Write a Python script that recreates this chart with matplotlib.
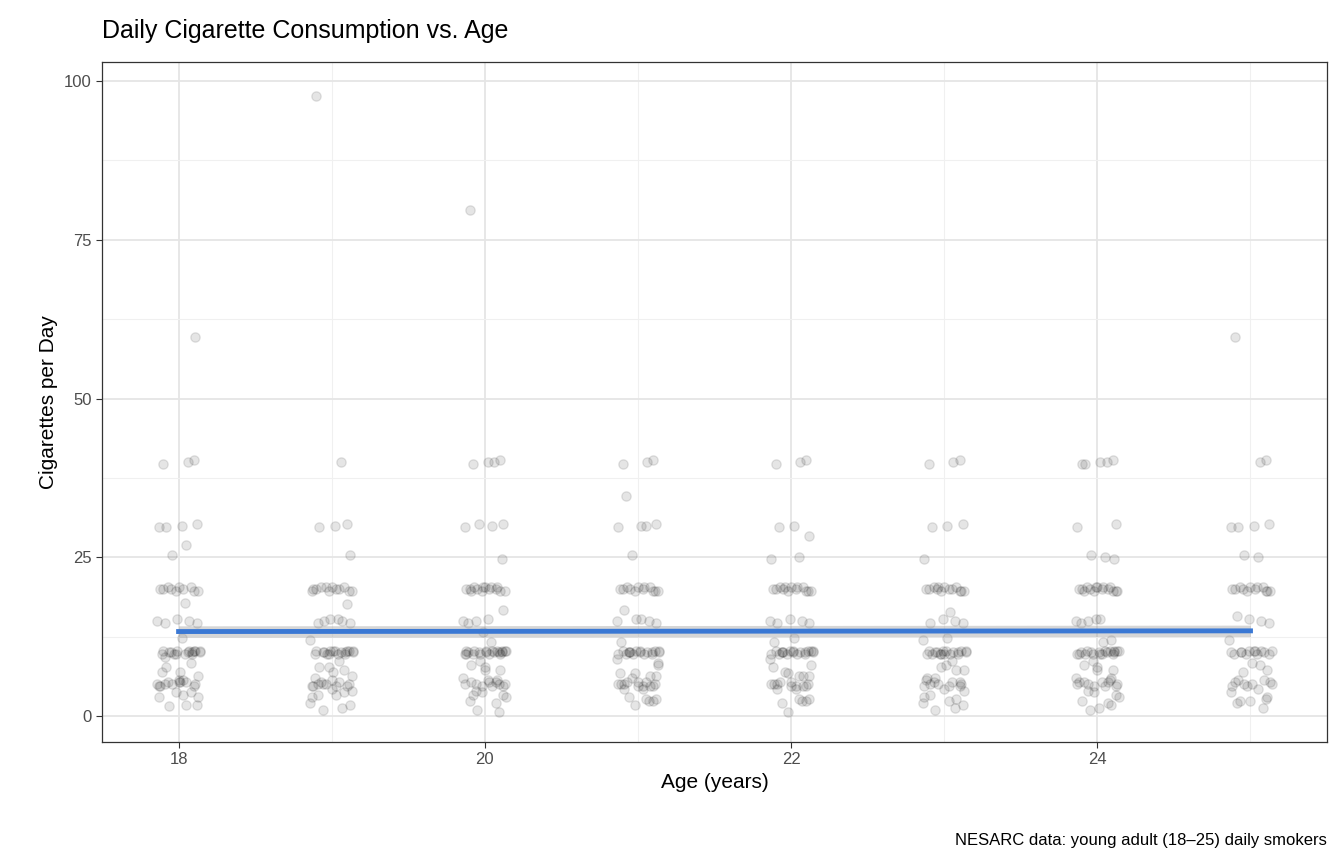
import numpy as np
import matplotlib
matplotlib.use("Agg")
import matplotlib.pyplot as plt

plt.rcParams['font.family'] = ['Liberation Sans', 'DejaVu Sans']

ages = [18, 19, 20, 21, 22, 23, 24, 25]
# cigarettes per day per age group
cigs = {
18: [40,40,40,30,30,30,30,27,25,60,20,20,20,20,20,20,20,20,20,20,17.5,15,15,15,15,15,12,10,10,10,10,10,10,10,10,10,8,7,6,5,5,5,5,5,5,4,3,3,2,1.5,
     10,10,10,10,10,10,5,5,5,5,6,7,8,4,3,9,2,5,10,6],
19: [98,40,30,30,30,25,20,20,20,20,20,20,20,20,20,20,20,20,18,15,15,15,15,15,15,12,10,10,10,10,10,10,10,10,10,10,8,7,6,5,5,5,5,5,4,4,3,3,2,1,1,
     10,10,10,10,10,10,5,5,5,5,6,7,8,4,3,9,2,10,6,5],
20: [80,40,40,40,40,30,30,30,30,25,20,20,20,20,20,20,20,20,20,20,20,20,20,20,17,15,15,15,15,13,12,10,10,10,10,10,10,10,10,10,10,10,10,8,7,6,5,5,5,5,5,4,3,2,1,1,
     10,10,10,10,10,10,10,5,5,5,5,6,7,8,4,3,9,2,10,6,5,3],
21: [40,40,40,35,30,30,30,30,25,20,20,20,20,20,20,20,20,20,20,20,20,17,15,15,15,15,15,12,10,10,10,10,10,10,10,10,10,10,8,7,6,5,5,5,5,5,5,4,3,3,2,2,
     10,10,10,10,10,10,5,5,5,5,6,7,8,4,3,9,2,5,10,6],
22: [40,40,40,30,30,28,25,25,20,20,20,20,20,20,20,20,20,20,20,20,20,15,15,15,15,15,12,12,10,10,10,10,10,10,10,10,10,10,10,8,7,6,5,5,5,5,5,4,3,2,2,1,
     10,10,10,10,10,10,5,5,5,5,6,7,8,4,3,9,2,5,10,6],
23: [40,40,40,30,30,30,25,20,20,20,20,20,20,20,20,20,20,20,20,20,16,15,15,15,15,12,12,10,10,10,10,10,10,10,10,10,10,8,7,6,5,5,5,5,4,3,3,2,2,1,1,
     10,10,10,10,10,10,5,5,5,5,6,7,8,4,3,9,2,5,10,6],
24: [40,40,40,40,40,30,30,25,25,25,20,20,20,20,20,20,20,20,20,20,20,20,20,20,20,15,15,15,15,15,12,12,10,10,10,10,10,10,10,10,10,10,10,8,7,6,5,5,5,5,5,4,3,2,2,1,1,
     10,10,10,10,10,10,5,5,5,5,6,7,8,4,3,9,2,5,10,6],
25: [60,40,40,30,30,30,30,25,25,20,20,20,20,20,20,20,20,20,20,20,20,16,15,15,15,12,10,10,10,10,10,10,10,10,8,7,6,5,5,5,5,4,3,2,2,1.5,
     10,10,10,10,10,5,5,5,6,7,8,4,3,2],
}
# horizontal jitter of each point
jit = [-0.10,0.06,0.10,-0.08,0.02,0.12,-0.13,0.05,-0.04,0.11,-0.12,-0.07,-0.02,0.03,0.08,0.13,-0.10,0.00,0.10,-0.05,
       0.04,-0.09,0.07,-0.01,0.12,-0.14,0.02,-0.11,-0.06,-0.01,0.04,0.09,0.14,-0.03,0.06,0.11,-0.08,0.01,0.13,-0.12,
       -0.04,0.05,0.10,-0.09,0.00,0.08,-0.13,0.03,0.12,-0.06,0.07,-0.02,0.14,-0.10,0.09,-0.05,0.01,-0.13,0.11,-0.07,
       0.03,-0.11,0.08,-0.02,0.13,-0.09,0.05,-0.14,0.10,0.00,-0.06,0.12,-0.03,0.07,-0.12,0.02,0.09,-0.08]

fig = plt.figure(figsize=(13.44, 8.64), dpi=100)
ax = fig.add_axes([0.0759, 0.1412, 0.9115, 0.7870])

xs, ys = [], []
for a in ages:
    for i, v in enumerate(cigs[a]):
        xs.append(a + jit[i]); ys.append(v + ((i % 3) - 1) * 0.3)
xs = np.array(xs); ys = np.array(ys)
ax.scatter(xs, ys, s=45, color='black', alpha=0.1, linewidths=1.0, edgecolors='black', zorder=3)

b, c = np.polyfit(xs, ys, 1)
lx = np.linspace(18, 25, 50)
ly = b * lx + c
ax.fill_between(lx, ly - 0.9, ly + 0.9, color='#999999', alpha=0.4, zorder=4, lw=0)
ax.plot(lx, ly, color='#3A78D4', lw=3.5, zorder=5)

ax.set_xlim(17.5, 25.5); ax.set_ylim(-4.1, 103)
ax.set_xticks([18, 20, 22, 24]); ax.set_yticks([0, 25, 50, 75, 100])
ax.set_xticks([19, 21, 23, 25], minor=True); ax.set_yticks([12.5, 37.5, 62.5, 87.5], minor=True)
ax.grid(True, which='major', color='#E5E5E5', lw=1.3, zorder=0)
ax.grid(True, which='minor', color='#F0F0F0', lw=0.8, zorder=0)
ax.set_axisbelow(True)
ax.tick_params(which='minor', length=0)
ax.tick_params(which='major', length=4, color='#333333', labelsize=12, labelcolor='#4D4D4D')
for s in ax.spines.values():
    s.set_color('#333333'); s.set_linewidth(0.9)
ax.set_xlabel('Age (years)', fontsize=15)
ax.set_ylabel('Cigarettes per Day', fontsize=15)
fig.text(0.0759, 0.95, 'Daily Cigarette Consumption vs. Age', fontsize=18, ha='left', va='bottom')
fig.text(0.9874, 0.018, 'NESARC data: young adult (18–25) daily smokers', fontsize=12, ha='right', va='bottom')
fig.savefig('out.png', dpi=100)
